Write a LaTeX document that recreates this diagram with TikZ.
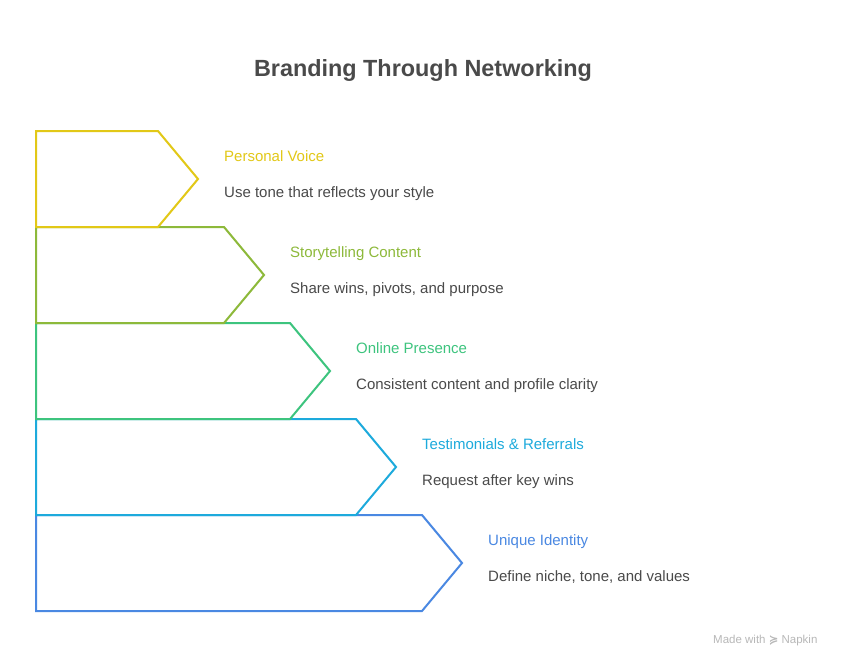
\documentclass[tikz,border=0pt]{standalone}
\usepackage{fontspec}
\setmainfont{Liberation Sans}
\newfontfamily\symfont{DejaVu Sans}
\definecolor{cA}{HTML}{E2C817}
\definecolor{cB}{HTML}{8DB93A}
\definecolor{cC}{HTML}{3DC47E}
\definecolor{cD}{HTML}{1DAADC}
\definecolor{cE}{HTML}{4A88E2}
\definecolor{txt}{HTML}{4A4A4A}
\tikzset{
  arrowshape/.style={line width=2pt, line join=miter, fill=white},
  lbl/.style={anchor=base west, inner sep=0pt, font=\fontsize{15}{18}\selectfont},
  desc/.style={anchor=base west, inner sep=0pt, text=txt, font=\fontsize{15}{18}\selectfont},
}
\begin{document}
\begin{tikzpicture}[x=1pt,y=-1pt]
\useasboundingbox (0,0) rectangle (846,646);
\fill[white] (0,0) rectangle (846,646);
\node[anchor=base, inner sep=0pt, text=txt, font=\fontsize{23.4}{28}\selectfont\bfseries] (title) at (423,76) {Branding Through Networking};
% shapes, drawn bottom to top
\foreach \i/\c in {4/cE,3/cD,2/cC,1/cB,0/cA}{
  \pgfmathsetmacro{\top}{131+96*\i}
  \pgfmathsetmacro{\bot}{227+96*\i}
  \pgfmathsetmacro{\mid}{179+96*\i}
  \pgfmathsetmacro{\xr}{158+66*\i}
  \pgfmathsetmacro{\xt}{198+66*\i}
  \draw[arrowshape, draw=\c] (36,\top) -- (\xr,\top) -- (\xt,\mid) -- (\xr,\bot) -- (36,\bot) -- cycle;
}
\node[lbl, text=cA] (l1) at (224,161) {Personal Voice};
\node[desc] (d1) at (224,197) {Use tone that reflects your style};
\node[lbl, text=cB] (l2) at (290,257) {Storytelling Content};
\node[desc] (d2) at (290,293) {Share wins, pivots, and purpose};
\node[lbl, text=cC] (l3) at (356,353) {Online Presence};
\node[desc] (d3) at (356,389) {Consistent content and profile clarity};
\node[lbl, text=cD] (l4) at (422,449) {Testimonials \& Referrals};
\node[desc] (d4) at (422,485) {Request after key wins};
\node[lbl, text=cE] (l5) at (488,545) {Unique Identity};
\node[desc] (d5) at (488,581) {Define niche, tone, and values};
\node[anchor=base west, inner sep=0pt, text=black!28, font=\fontsize{11.5}{12}\selectfont] (wm) at (713,643) {Made with {\symfont\bfseries ≽} Napkin};
\end{tikzpicture}
\end{document}
